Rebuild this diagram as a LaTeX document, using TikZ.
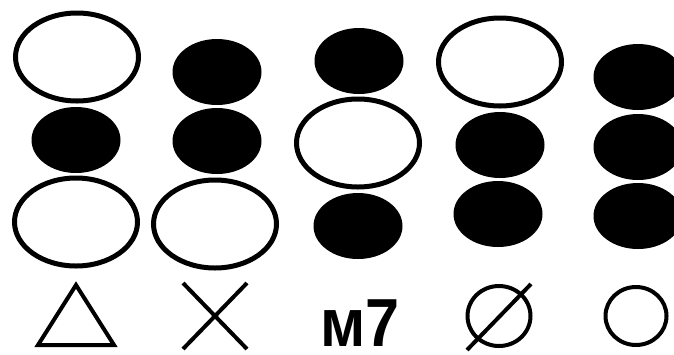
\documentclass[tikz,border=0pt]{standalone}
\usepackage{fontspec}
\newfontfamily\chordfont{Liberation Sans}
\usetikzlibrary{shapes.geometric}
\tikzset{
  % --- dots
  hollow/.style   = {ellipse, draw=black, line width=5pt, fill=white, inner sep=0pt,
                     minimum width=123pt, minimum height=88pt},
  blackdot/.style = {ellipse, fill=black, inner sep=0pt,
                     minimum width=89pt, minimum height=66pt},
  % --- symbols
  sym/.style      = {draw=black, line width=4pt},
  ring/.style     = {ellipse, sym, inner sep=0pt, minimum width=63pt, minimum height=60pt},
  chord/.style    = {font=\chordfont\bfseries\fontsize{68}{68}\selectfont, inner sep=0pt,
                     anchor=base, xscale=0.9, transform shape},
}
\begin{document}
\begin{tikzpicture}[x=1pt,y=-1pt]
  \useasboundingbox (0,0) rectangle (674,354);
  \clip (0,0) rectangle (674,354);

  \node[blackdot] (d1b) at (76,140) {};
  \node[hollow]   (d1a) at (77,57) {};
  \node[hollow]   (d1c) at (76,222) {};

  \node[blackdot] (d2a) at (217,72) {};
  \node[blackdot] (d2b) at (217,141) {};
  \node[hollow]   (d2c) at (215,224) {};

  \node[blackdot] (d3a) at (359,61) {};
  \node[blackdot] (d3c) at (358,226) {};
  \node[hollow]   (d3b) at (358,143) {};

  \node[hollow]   (d4a) at (500,62) {};
  \node[blackdot] (d4b) at (500,145) {};
  \node[blackdot] (d4c) at (498,214) {};

  \node[blackdot] (d5a) at (638,77) {};
  \node[blackdot] (d5b) at (638,147) {};
  \node[blackdot] (d5c) at (638,216) {};

  % chord symbols
  \coordinate (s1) at (76,316);
  \draw[sym, line join=miter] (s1) ++(0,-31) -- ++(38,60) -- ++(-76,0) -- cycle;

  \coordinate (s2) at (215,316);
  \draw[sym] (s2) ++(-32,-33) -- ++(64,66) (s2) ++(32,-33) -- ++(-64,66);

  \node[chord] (s3) at (360,346) {м7};

  \node[ring] (s4) at (499,316) {};
  \draw[sym] (s4) ++(-32,34) -- ++(64,-66);

  \node[ring, minimum width=61pt, minimum height=58pt] (s5) at (636,316) {};
\end{tikzpicture}
\end{document}
